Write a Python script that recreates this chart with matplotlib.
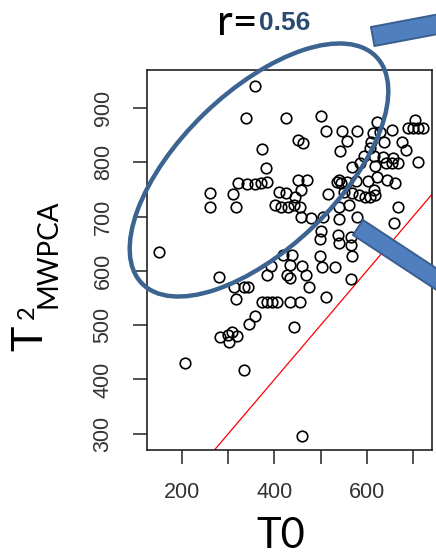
import matplotlib.pyplot as plt
from matplotlib.patches import Ellipse, Polygon

# T0 vs T2 (MWPCA) scores
t0 = [358,
      339, 425, 501, 622, 704,
      512, 546, 579, 613, 629, 655, 689, 700, 711, 722,
      451, 462, 557, 609, 637, 676,
      373, 542, 607, 685,
      594, 616, 635, 657,
      568, 585, 618, 642, 655, 668, 711, 382,
      321, 341, 358, 371, 384, 451, 471, 536, 540, 544, 557, 577, 603, 622, 644, 661,
      261, 310, 410, 425, 445, 458, 516, 551, 568, 583, 596, 607, 618, 616,
      261, 317, 401, 414, 429, 442, 455, 540, 562, 668,
      458, 479, 505, 540, 579, 659,
      501, 499, 538, 540, 566, 566,
      150, 419, 438, 499, 568,
      393, 434, 460, 503, 531,
      280, 384, 427, 434, 468, 566,
      313, 334, 343, 475,
      317, 373, 384, 395, 406, 434, 455, 512,
      358, 345, 442,
      282, 300, 308, 319, 302,
      207, 334, 460]
t2 = [940,
      882, 882, 885, 874, 878,
      858, 858, 858, 854, 856, 860, 863, 863, 863, 863,
      841, 836, 839, 837, 837, 837,
      825, 821, 826, 823,
      812, 812, 810, 808,
      791, 799, 793, 799, 799, 799, 801, 790,
      762, 760, 760, 762, 764, 768, 768, 764, 768, 762, 764, 766, 766, 773, 768, 762,
      744, 742, 745, 744, 736, 749, 742, 745, 744, 740, 736, 736, 740, 749,
      718, 718, 721, 718, 718, 721, 718, 718, 721, 718,
      699, 698, 699, 696, 699, 688,
      674, 659, 666, 652, 663, 648,
      635, 629, 629, 628, 628,
      609, 611, 609, 607, 607,
      589, 593, 593, 587, 593, 585,
      571, 571, 571, 571,
      548, 543, 543, 543, 543, 543, 543, 552,
      517, 502, 497,
      479, 482, 488, 480, 469,
      431, 418, 296]

x_ticks = [200, 300, 400, 500, 600, 700]
x_labels = ['200', '', '400', '', '600', '']
y_ticks = [300, 400, 500, 600, 700, 800, 900]

W, H = 436, 556
fig = plt.figure(figsize=(W / 100, H / 100), dpi=100)
ax = fig.add_axes([147 / W, 1 - 450 / H, 285 / W, 380 / H])

ax.plot(t0, t2, 'o', mfc='none', mec='black', ms=7.6, mew=1.2, zorder=3)
ax.axline((0, 0), slope=1, color='red', lw=0.9, zorder=2)

ax.set_xlim(124, 741)
ax.set_ylim(270, 970)
ax.set_xticks(x_ticks)
ax.set_xticklabels(x_labels)
ax.set_yticks(y_ticks)
ax.set_yticklabels([str(v) for v in y_ticks])
ax.tick_params(length=10, width=1.1, color='#222222', labelcolor='#333333',
               labelsize=15.5, labelfontfamily='Liberation Sans')
ax.tick_params(axis='x', pad=13)
ax.tick_params(axis='y', pad=14, labelrotation=90)
for lab in ax.get_yticklabels():
    lab.set_va('center')
for s in ax.spines.values():
    s.set_linewidth(1.2)
    s.set_color('#222222')

# overlay in pixel units for labels and callouts
ov = fig.add_axes([0, 0, 1, 1], zorder=5)
ov.set_xlim(0, W)
ov.set_ylim(H, 0)
ov.axis('off')
ov.patch.set_alpha(0)

ov.text(217, 35, 'r=', fontsize=31, family='Lato', va='baseline', ha='left')
ov.text(259, 30, '0.56', fontsize=19, family='Liberation Sans', weight='bold',
        color='#2a4b70', va='baseline', ha='left')
ov.text(281, 555, 'T0', fontsize=30, family='Lato', va='bottom', ha='center')

ov.text(30, 338, 'T', fontsize=31, family='Lato', rotation=90, ha='center', va='center')
ov.text(27, 312, '2', fontsize=17, family='Lato', rotation=90, ha='center', va='center')
ov.text(48, 254, 'MWPCA', fontsize=20, family='Lato', rotation=90, ha='center', va='center')

ov.add_patch(Ellipse((259, 170), 326, 157, angle=-44, fill=False,
                     ec='#3d6491', lw=3.2))
bar_kw = dict(closed=True, fc='#4f7fbf', ec='#3a5f8e', lw=1.4)
ov.add_patch(Polygon([(371, 27), (445, 13), (448.5, 32), (374.5, 46)], **bar_kw))
ov.add_patch(Polygon([(363, 220), (446.5, 275), (436.6, 290), (353, 235)], **bar_kw))

fig.savefig('out.png', dpi=100)
